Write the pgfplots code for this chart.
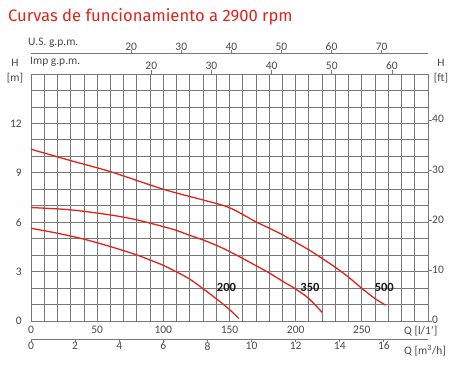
\documentclass[border=0pt]{standalone}
\usepackage{fontspec}
\setmainfont{Carlito}
\newfontfamily\titlefont{Fira Sans}
\usepackage{pgfplots}
\pgfplotsset{compat=1.18}
\definecolor{curvered}{HTML}{E2231A}
\definecolor{gridgray}{HTML}{787878}
\definecolor{txtgray}{HTML}{4A4A4A}
\pgfplotsset{
  common/.style={
    scale only axis, width=397pt, height=247pt,
    /pgf/number format/assume math mode=true,
    every tick label/.append style={font=\fontsize{11.5}{13}\selectfont, text=txtgray},
    axis line style={gridgray, line width=0.8pt},
    tick style={gridgray, line width=0.8pt},
  }
}
\begin{document}
\begin{tikzpicture}[font=\fontsize{11.5}{13}\selectfont]
% main axis
\begin{axis}[common, at={(0,0)}, anchor=south west,
  xmin=0, xmax=300, ymin=0, ymax=15,
  xtick={0,50,...,250}, ytick={0,3,...,12},
  minor xtick={0,10,...,300}, minor ytick={0,1,...,15},
  grid=both,
  major grid style={gridgray, line width=0.8pt},
  minor grid style={gridgray, line width=0.8pt},
  major tick length=0pt, minor tick length=0pt,
  xticklabel style={anchor=north, inner sep=0pt, yshift=-5pt},
  yticklabel style={anchor=east, inner sep=0pt, xshift=-9pt},
  clip=false]
\addplot[curvered, line width=1.3pt, smooth, tension=0.5] coordinates {
 (0,5.63)(20,5.33)(40,4.97)(60,4.52)(80,4.01)(90,3.7)(100,3.38)(110,2.98)
 (120,2.54)(130,1.96)(140,1.35)(150,0.7)(157,0.15)};
\addplot[curvered, line width=1.3pt, smooth, tension=0.5] coordinates {
 (0,6.89)(30,6.75)(60,6.44)(80,6.14)(100,5.73)(110,5.5)(120,5.2)(130,4.92)
 (140,4.6)(150,4.22)(160,3.8)(170,3.36)(180,2.92)(190,2.42)(200,1.94)(210,1.36)(220,0.52)};
\addplot[curvered, line width=1.3pt, smooth, tension=0.5] coordinates {
 (0,10.43)(30,9.74)(60,9.07)(100,8.0)(130,7.35)(150,6.88)(170,6.02)(180,5.64)
 (190,5.24)(200,4.78)(210,4.32)(220,3.8)(230,3.26)(240,2.66)(250,1.98)(260,1.36)(268,0.96)};
\node[font=\fontsize{12.5}{14}\bfseries, text=black!90, inner sep=0pt] at (axis cs:147.7,2.03) {200};
\node[font=\fontsize{12.5}{14}\bfseries, text=black!90, inner sep=0pt] at (axis cs:210.8,2.03) {350};
\node[font=\fontsize{12.5}{14}\bfseries, text=black!90, inner sep=0pt] at (axis cs:267,2.03) {500};
\end{axis}
% right axis ft
\begin{axis}[common, at={(0,0)}, anchor=south west,
  xmin=0, xmax=1, ymin=0, ymax=49.2126,
  axis x line=none, axis y line*=right,
  ytick={0,10,...,40}, tick align=outside, major tick length=4pt,
  yticklabel style={anchor=west, inner sep=0pt, yshift=1pt}]
\end{axis}
% top Imp gpm
\begin{axis}[common, at={(0,0)}, anchor=south west,
  xmin=0, xmax=65.99, ymin=0, ymax=1,
  axis y line=none, axis x line*=top,
  xtick={20,30,...,60}, tick align=outside, major tick length=4pt,
  xticklabel style={anchor=south, inner sep=0pt}]
\end{axis}
% top US gpm
\begin{axis}[common, at={(0,21pt)}, anchor=south west,
  xmin=0, xmax=79.25, ymin=0, ymax=1,
  axis y line=none, axis x line*=top,
  xtick={20,30,...,70}, tick align=outside, major tick length=3pt,
  xticklabel style={anchor=south, inner sep=0pt, yshift=-1pt}]
\end{axis}
% bottom m3/h
\begin{axis}[common, at={(0,-18pt)}, anchor=south west,
  xmin=0, xmax=18, ymin=0, ymax=1,
  axis y line=none, axis x line*=bottom,
  xtick={0,2,...,16}, tick align=outside, major tick length=3pt,
  xticklabel style={anchor=north, inner sep=0pt}]
\end{axis}
% texts
\node[anchor=base west, inner sep=0pt, text=curvered, font=\titlefont\fontsize{16.6}{18}\selectfont] at (-23pt,299pt) {Curvas de funcionamiento a 2900 rpm};
\node[text=txtgray, inner sep=0pt] at (-16pt,258pt) {H};
\node[text=txtgray, inner sep=0pt] at (-16pt,243pt) {[m]};
\node[text=txtgray, inner sep=0pt] at (410pt,258pt) {H};
\node[text=txtgray, inner sep=0pt] at (410pt,243pt) {[ft]};
\node[text=txtgray, inner sep=0pt, anchor=west] at (-3pt,278pt) {U.S. g.p.m.};
\node[text=txtgray, inner sep=0pt, anchor=west] at (-1pt,259pt) {Imp g.p.m.};
\node[text=txtgray, inner sep=0pt, anchor=west] at (373pt,-10.5pt) {Q [l/1']};
\node[text=txtgray, inner sep=0pt, anchor=west] at (373pt,-30pt) {Q [m\textsuperscript{3}/h]};
\pgfresetboundingbox
\path[use as bounding box] (-31pt,-50pt) rectangle (425pt,321pt);
\end{tikzpicture}
\end{document}
